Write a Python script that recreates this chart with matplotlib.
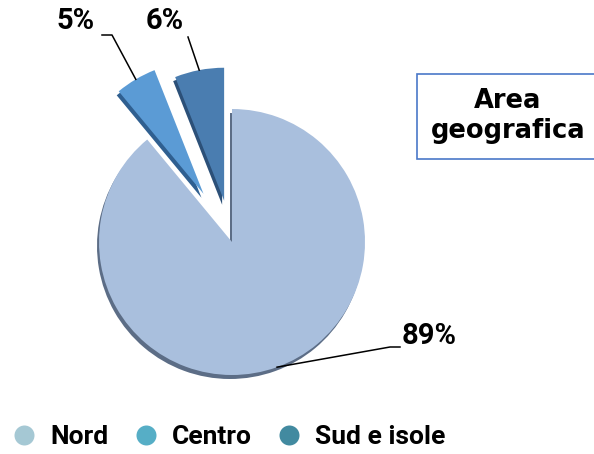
'''
    Area geografica - grafico a torta
'''
import numpy as np
import matplotlib.pyplot as plt
from matplotlib.lines import Line2D
from matplotlib.patches import Rectangle

AREE = ['Nord', 'Centro', 'Sud e isole']
QUOTE = [89, 5, 6]
ETICHETTE = ['89%', '5%', '6%']

COLORI_TORTA = ['#a9bfdd', '#5b9bd5', '#4a7db0']
COLORI_OMBRA = ['#5c6d86', '#2f5f90', '#2c5078']
COLORI_LEGENDA = ['#a5c8d4', '#56aec6', '#428aa0']

FONT = 'Roboto'


def disegna_torta(ax):
    '''Torta con fette esplose e una leggera ombra'''
    esploso = [0, 56, 42]  # in pixel, la torta è in coordinate pixel
    centro = (232, 212)
    raggio = 133
    ax.pie(QUOTE, colors=COLORI_OMBRA, explode=esploso, startangle=90,
           counterclock=False, radius=raggio,
           center=(centro[0] - 2, centro[1] - 4),
           wedgeprops={'linewidth': 0})
    fette, _ = ax.pie(QUOTE, colors=COLORI_TORTA, explode=esploso,
                      startangle=90, counterclock=False, radius=raggio,
                      center=centro, wedgeprops={'linewidth': 0})
    return fette


def punto_esterno(fetta):
    '''Punto a metà dell'arco esterno di una fetta'''
    ang = np.deg2rad((fetta.theta1 + fetta.theta2) / 2)
    cx, cy = fetta.center
    return cx + fetta.r * np.cos(ang), cy + fetta.r * np.sin(ang)


def etichette(ax, fette):
    '''Percentuali con le linee di richiamo'''
    # gomito, fine linea, posizione testo, allineamento
    guide = [
        ((390, 107), (400, 107), (402, 118), 'left'),
        ((112, 419), (102, 419), (76, 433), 'center'),
        ((188, 417), (188, 417), (165, 433), 'center'),
    ]
    for fetta, testo, (gomito, fine, pos, ha) in zip(fette, ETICHETTE, guide):
        x0, y0 = punto_esterno(fetta)
        ax.plot([x0, gomito[0], fine[0]], [y0, gomito[1], fine[1]],
                color='black', lw=1.1)
        ax.text(pos[0], pos[1], testo, ha=ha, va='center', fontsize=21,
                fontweight='bold', family=FONT)


def execute():
    '''Esegue tutto'''
    fig = plt.figure(figsize=(5.94, 4.54), dpi=100)
    ax = fig.add_axes([0, 0, 1, 1])
    fette = disegna_torta(ax)
    etichette(ax, fette)

    ax.add_patch(Rectangle((417, 295), 200, 85, facecolor='white',
                           edgecolor='#4a78c8', lw=1.2))
    ax.text(508, 338, 'Area\ngeografica', ha='center', va='center',
            fontsize=18.5, fontweight='bold', family='DejaVu Sans',
            linespacing=1.2)

    maniglie = [Line2D([], [], ls='', marker='o', markersize=14.4,
                       markerfacecolor=c, markeredgewidth=0)
                for c in COLORI_LEGENDA]
    ax.legend(maniglie, AREE, loc='center left', ncol=3, frameon=False,
              bbox_to_anchor=(11 / 594, 17 / 454), borderaxespad=0,
              borderpad=0, handlelength=1.0, handletextpad=0.5,
              columnspacing=0.9, prop={'family': FONT, 'weight': 'bold',
                                       'size': 19})

    ax.set_xlim(0, 594)
    ax.set_ylim(0, 454)
    ax.set_aspect('equal')
    ax.axis('off')
    fig.savefig('out.png', dpi=100)


execute()
